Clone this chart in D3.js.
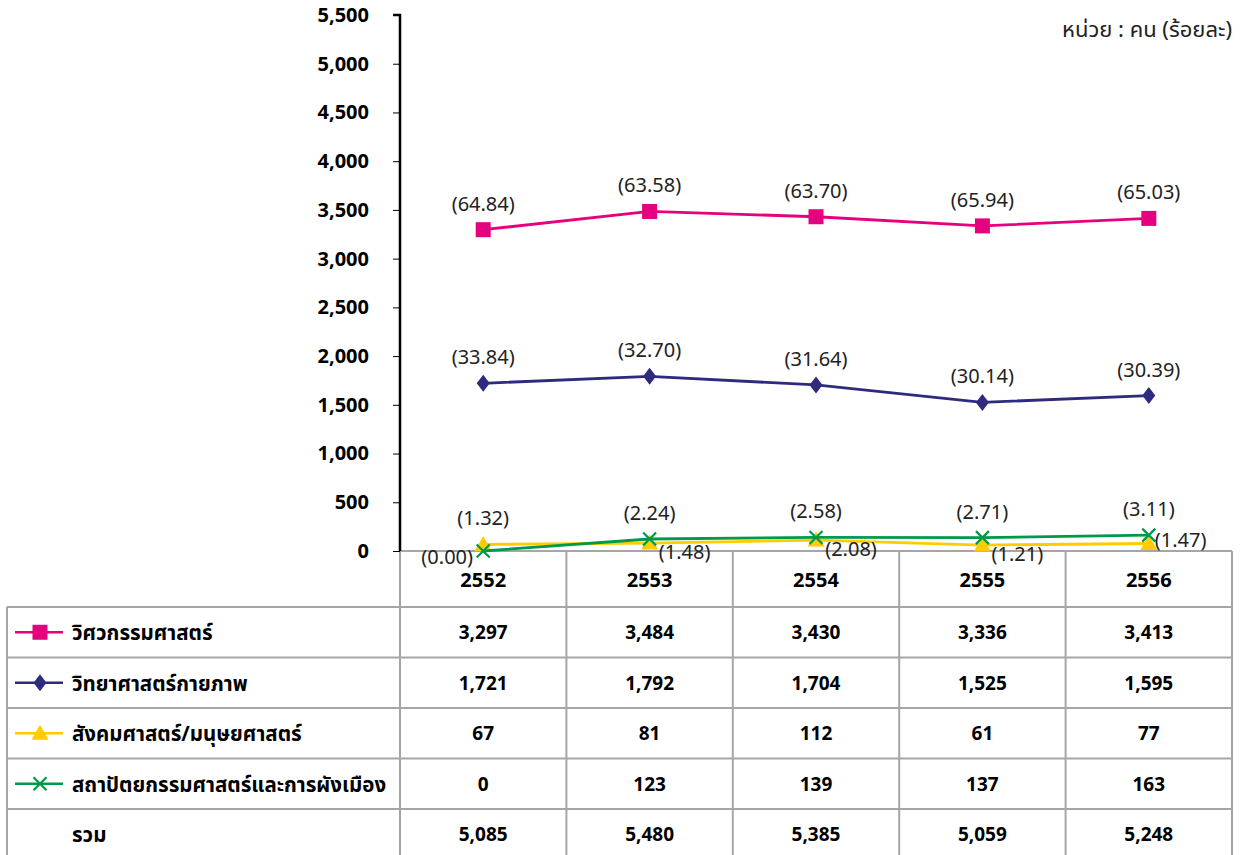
<!DOCTYPE html>
<html>
<head>
<meta charset="utf-8">
<script src="https://cdn.jsdelivr.net/npm/d3@7"></script>
<style>
  body { margin: 0; background: #fff; }
  svg { display: block; font-family: Tahoma, "Noto Sans Thai", "Noto Sans", "DejaVu Sans", sans-serif; }
</style>
</head>
<body>
<div id="chart"></div>
<script>
// data
const years = ["2552", "2553", "2554", "2555", "2556"];
const engineering = [3297, 3484, 3430, 3336, 3413];
const physSci = [1721, 1792, 1704, 1525, 1595];
const socialSci = [67, 81, 112, 61, 77];
const architecture = [0, 123, 139, 137, 163];
const totals = [5085, 5480, 5385, 5059, 5248];
const engPct = ["64.84", "63.58", "63.70", "65.94", "65.03"];
const physPct = ["33.84", "32.70", "31.64", "30.14", "30.39"];
const socPct = ["1.32", "1.48", "2.08", "1.21", "1.47"];
const archPct = ["0.00", "2.24", "2.58", "2.71", "3.11"];
const yTicks = [0, 500, 1000, 1500, 2000, 2500, 3000, 3500, 4000, 4500, 5000, 5500];

const series = [
  { name: "วิศวกรรมศาสตร์", values: engineering, pct: engPct, color: "#e6007e", marker: "square",
    place: ["above", "above", "above", "above", "above"] },
  { name: "วิทยาศาสตร์กายภาพ", values: physSci, pct: physPct, color: "#2e2a7e", marker: "diamond",
    place: ["above", "above", "above", "above", "above"] },
  { name: "สังคมศาสตร์/มนุษยศาสตร์", values: socialSci, pct: socPct, color: "#ffcc00", marker: "triangle",
    place: ["above", "belowright", "belowright", "belowright", "right"] },
  { name: "สถาปัตยกรรมศาสตร์และการผังเมือง", values: architecture, pct: archPct, color: "#00994c", marker: "cross",
    place: ["left", "above", "above", "above", "above"] }
];

const width = 1241, height = 855;
const tableLeft = 7, plotLeft = 400, plotRight = 1232;
const plotTop = 15, plotBottom = 551;
const headerH = 56, rowH = 50.5;
const numSize = 19, thaiSize = 20.5;

const svg = d3.select("#chart").append("svg")
  .attr("width", width).attr("height", height);

const x = d3.scaleBand().domain(years).range([plotLeft, plotRight]);
const y = d3.scaleLinear().domain([0, 5500]).range([plotBottom, plotTop]);
const cx = d => x(d) + x.bandwidth() / 2;

// unit label
svg.append("text")
  .attr("x", 1232).attr("y", 37)
  .attr("text-anchor", "end")
  .attr("font-size", 22).attr("fill", "#222")
  .text("หน่วย : คน (ร้อยละ)");

// table grid
const grid = svg.append("g").attr("stroke", "#a6a6a6").attr("stroke-width", 2).attr("fill", "none");
const rowYs = [plotBottom, plotBottom + headerH];
for (let i = 1; i <= 5; i++) rowYs.push(plotBottom + headerH + i * rowH);
rowYs.forEach((ry, i) => {
  grid.append("line")
    .attr("x1", i === 0 ? plotLeft : tableLeft).attr("x2", plotRight)
    .attr("y1", ry).attr("y2", ry);
});
years.forEach(yr => {
  grid.append("line").attr("x1", x(yr) + x.bandwidth()).attr("x2", x(yr) + x.bandwidth())
    .attr("y1", plotBottom).attr("y2", height);
});
grid.append("line").attr("x1", plotLeft).attr("x2", plotLeft).attr("y1", plotBottom).attr("y2", height);
grid.append("line").attr("x1", tableLeft).attr("x2", tableLeft).attr("y1", plotBottom + headerH).attr("y2", height);

// header years
svg.append("g").selectAll("text").data(years).join("text")
  .attr("x", d => cx(d)).attr("y", plotBottom + headerH / 2 + 8)
  .attr("text-anchor", "middle").attr("font-size", numSize + 1).attr("font-weight", "bold")
  .text(d => d);

// markers
function drawMarker(g, type, color, px, py, s) {
  if (type === "square") {
    g.append("rect").attr("x", px - s / 2).attr("y", py - s / 2).attr("width", s).attr("height", s).attr("fill", color);
  } else if (type === "diamond") {
    g.append("path").attr("d", `M${px},${py - s / 2 - 1}L${px + s / 2 - 1},${py}L${px},${py + s / 2 + 1}L${px - s / 2 + 1},${py}Z`).attr("fill", color);
  } else if (type === "triangle") {
    g.append("path").attr("d", `M${px},${py - s / 2 - 1}L${px + s / 2 + 1},${py + s / 2 - 1}L${px - s / 2 - 1},${py + s / 2 - 1}Z`).attr("fill", color);
  } else {
    const h = s / 2 - 1;
    g.append("path").attr("d", `M${px - h},${py - h}L${px + h},${py + h}M${px - h},${py + h}L${px + h},${py - h}`)
      .attr("stroke", color).attr("stroke-width", 2.2).attr("fill", "none");
  }
}

// legend rows + values
series.forEach((s, i) => {
  const rc = plotBottom + headerH + i * rowH + rowH / 2;
  const g = svg.append("g");
  g.append("line").attr("x1", 15).attr("x2", 63).attr("y1", rc).attr("y2", rc)
    .attr("stroke", s.color).attr("stroke-width", 2.5);
  drawMarker(g, s.marker, s.color, 40, rc, 15);
  g.append("text").attr("x", 72).attr("y", rc + 8).attr("font-size", thaiSize).attr("font-weight", "bold").text(s.name);
  g.selectAll("text.v").data(s.values).join("text").attr("class", "v")
    .attr("x", (d, j) => cx(years[j])).attr("y", rc + 7)
    .attr("text-anchor", "middle").attr("font-size", numSize).attr("font-weight", "bold")
    .text(d => d3.format(",")(d));
});
const totalRc = plotBottom + headerH + 4 * rowH + rowH / 2;
svg.append("text").attr("x", 72).attr("y", totalRc + 8).attr("font-size", thaiSize).attr("font-weight", "bold").text("รวม");
svg.append("g").selectAll("text").data(totals).join("text")
  .attr("x", (d, j) => cx(years[j])).attr("y", totalRc + 7)
  .attr("text-anchor", "middle").attr("font-size", numSize).attr("font-weight", "bold")
  .text(d => d3.format(",")(d));

// y axis
const yAxis = d3.axisLeft(y).tickValues(yTicks).tickSize(7).tickPadding(24).tickFormat(d3.format(","));
const ag = svg.append("g").attr("transform", `translate(${plotLeft},0)`).call(yAxis);
ag.select(".domain").attr("stroke", "#000").attr("stroke-width", 2.5).attr("d", `M-7,${plotTop}H0V${plotBottom}`);
ag.selectAll(".tick line").attr("stroke", "#000").attr("stroke-width", 1);
ag.selectAll(".tick text").attr("font-size", 20).attr("font-weight", "bold").attr("fill", "#000")
  .attr("font-family", "Tahoma, 'Noto Sans Thai', 'Noto Sans', 'DejaVu Sans', sans-serif");

// lines (draw lower series first so they sit beneath)
const line = d3.line().x((d, j) => cx(years[j])).y(d => y(d));
[2, 3, 1, 0].forEach(i => {
  const s = series[i];
  const g = svg.append("g");
  g.append("path").attr("d", line(s.values)).attr("fill", "none")
    .attr("stroke", s.color).attr("stroke-width", 2.8);
  s.values.forEach((v, j) => drawMarker(g, s.marker, s.color, cx(years[j]), y(v), 15));
});

// percentage labels
const offsets = {
  above: [0, -19, "middle"],
  belowright: [35, 16, "middle"],
  right: [6, 4, "start"],
  left: [-36, 13, "middle"]
};
series.forEach(s => {
  s.values.forEach((v, j) => {
    const o = offsets[s.place[j]];
    svg.append("text")
      .attr("x", cx(years[j]) + o[0]).attr("y", y(v) + o[1])
      .attr("text-anchor", o[2]).attr("font-size", 20).attr("fill", "#222")
      .text("(" + s.pct[j] + ")");
  });
});
</script>
</body>
</html>
